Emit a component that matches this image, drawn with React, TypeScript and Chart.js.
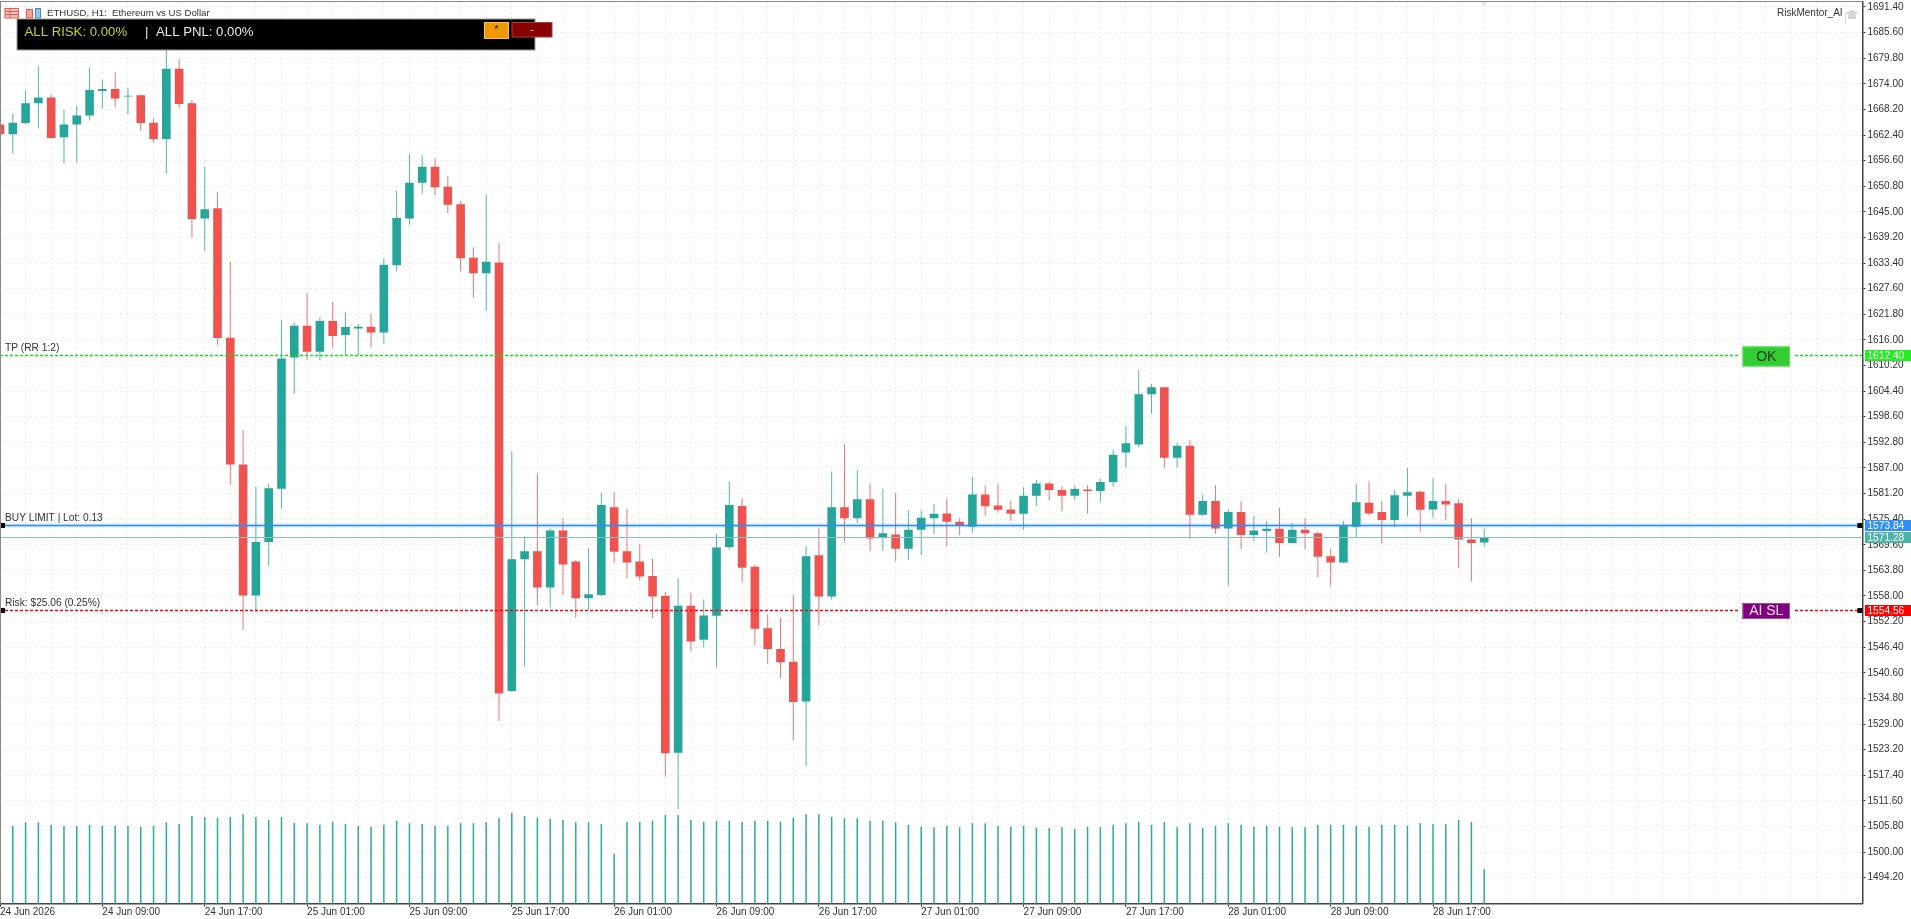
import React, { useEffect, useRef } from "react";
import { Chart, registerables } from "chart.js";

Chart.register(...registerables);

const opens = [1664.8,1662.6,1665.1,1669.6,1670.9,1661.9,1664.8,1666.8,1672.4,1672.8,1671.1,1671.4,1665.2,1661.5,1677.4,1669.6,1643.5,1645.8,1616.5,1587.8,1558.1,1570.2,1582.3,1612,1619.2,1613.3,1620.3,1617.1,1618.6,1619,1617.7,1632.9,1643.5,1651.6,1655.2,1650.7,1646.7,1634.6,1631.1,1633.5,1536.5,1566.3,1568.1,1559.9,1572.8,1565.8,1557.5,1558.2,1578.1,1568.1,1565.8,1562.5,1558,1522.5,1555.8,1548.1,1553.5,1569.1,1578.4,1564.6,1550.7,1546,1543.1,1534.1,1567.2,1557.9,1578.1,1575.6,1579.9,1571.3,1571.9,1568.7,1573,1575.6,1576.7,1574.8,1573.7,1581,1578.5,1577.6,1576.6,1580.7,1583.5,1582,1580.7,1582.1,1581.8,1583.8,1590.5,1592.3,1603.7,1605.3,1589.3,1592,1576.4,1579.5,1573.3,1577,1571.8,1572.7,1573.2,1570,1573,1572.2,1567,1565.6,1573.7,1579.1,1577,1575.2,1580.7,1581.6,1577.6,1579.5,1579,1570.8,1570.1];
const highs = [1665.2,1667.3,1672.5,1678,1671.6,1668.1,1669.1,1677.7,1675,1676.7,1673.1,1671.5,1666.2,1684,1679.6,1670.3,1655.2,1649.4,1633.7,1595.6,1582.8,1583.4,1620.5,1619.8,1626.6,1621.1,1624.6,1622.2,1619.6,1622,1634.5,1649.8,1658.1,1657.8,1657.1,1653.2,1647.5,1637,1648.8,1638,1590.8,1571.5,1585.8,1573.3,1575.6,1566.1,1568.8,1581.3,1581.5,1577.7,1569.7,1566.5,1558.9,1562,1558.6,1557.2,1572,1584,1580.1,1565,1553.8,1553.1,1558.2,1569.3,1573.3,1586.2,1592.4,1586.5,1583.5,1582.2,1581.3,1577.4,1577.3,1578.8,1580.1,1575.6,1585,1583,1583.4,1579.5,1582.6,1584.3,1583.8,1582.9,1582.9,1583.1,1584.5,1591.1,1596.5,1609.2,1606,1605.4,1592.7,1593.3,1580.9,1583.1,1577.6,1579.5,1576.1,1575,1577.9,1574.5,1575.6,1572.6,1568.7,1575,1583.4,1583.9,1579.5,1582,1587,1581.8,1584.6,1583.5,1579.9,1575.6,1573.2];
const lows = [1662.3,1658.3,1664.8,1663.9,1661.6,1656,1656.1,1665.7,1668.4,1668.7,1667.1,1663.3,1660.7,1653.7,1668.5,1639.2,1636.2,1614.9,1583.2,1550.3,1554.4,1564.8,1577.8,1603.9,1611.4,1611.4,1614.3,1612.6,1612.6,1614.3,1615.2,1631.5,1642.1,1649.1,1648.8,1644.7,1631.5,1625.6,1622.6,1529.7,1536.3,1542.1,1555.9,1555.4,1558.2,1553,1554.8,1558,1565.6,1562,1561.5,1553,1517.1,1509.7,1545.4,1546.3,1541.8,1568.6,1561.1,1546.7,1542.7,1539.3,1525.2,1519.5,1551.3,1557.2,1570.3,1574.5,1568.1,1568.3,1565.8,1566.2,1567.3,1572,1569.3,1571.8,1572.4,1576.2,1576.9,1574.9,1573,1578.5,1579.6,1577.2,1579.7,1576.7,1579.2,1582.7,1587.1,1591.6,1599.3,1586.9,1587.1,1570.9,1576.1,1572.1,1560.3,1568.5,1570.4,1567.8,1566.9,1569.8,1568.6,1562.2,1560.3,1565.5,1571.3,1576.2,1569.9,1573.7,1576,1572.6,1575.7,1575.1,1564.4,1561.2,1569.2];
const closes = [1662.6,1665.2,1669.6,1670.9,1661.7,1664.8,1666.8,1672.6,1672.8,1670.7,1671.3,1665.1,1661.5,1677.4,1669.4,1643.4,1645.6,1616.4,1587.8,1558.1,1570.2,1582.4,1611.8,1619.2,1613.3,1620.3,1616.9,1618.9,1619,1617.7,1633,1643.6,1651.6,1655.2,1650.6,1646.6,1634.5,1631.1,1633.7,1535.9,1566.3,1568.1,1559.9,1572.8,1565.1,1557.5,1558.4,1578.6,1568,1565.6,1562.4,1557.9,1522.4,1555.8,1547.7,1553.6,1569,1578.6,1564.4,1550.6,1546,1543,1534,1567,1557.9,1578.1,1575.6,1579.9,1571,1572.2,1568.7,1573,1575.7,1576.6,1574.8,1574,1581,1578.3,1577.5,1576.6,1580.7,1583.5,1582,1580.7,1582.2,1581.8,1583.8,1590,1592.6,1603.7,1605.3,1589.3,1592,1576.4,1579.5,1573.3,1577,1571.8,1572.8,1573.2,1570,1573,1572.2,1566.9,1565.6,1574,1579.2,1576.7,1575.2,1580.8,1581.5,1577.5,1579.5,1578.7,1570.8,1570,1571.3];
const volumes = [0,234,244,244,237,234,234,237,234,234,234,231,234,244,239,263,260,258,260,268,260,251,260,242,241,237,246,239,234,231,237,249,241,239,234,234,241,241,244,258,272,263,258,254,251,244,244,239,150,246,246,249,266,266,251,246,249,249,246,249,249,246,258,268,268,260,256,256,249,249,244,237,231,229,234,229,241,241,234,231,234,227,227,229,224,231,229,237,241,246,237,244,229,241,227,234,241,237,231,234,231,229,229,237,237,237,234,231,237,237,234,241,239,239,251,246,104];
const timeLabels = ["24 Jun 2026","24 Jun 09:00","24 Jun 17:00","25 Jun 01:00","25 Jun 09:00","25 Jun 17:00","26 Jun 01:00","26 Jun 09:00","26 Jun 17:00","27 Jun 01:00","27 Jun 09:00","27 Jun 17:00","28 Jun 01:00","28 Jun 09:00","28 Jun 17:00"];
const priceTicks = [1691.4,1685.6,1679.8,1674,1668.2,1662.4,1656.6,1650.8,1645,1639.2,1633.4,1627.6,1621.8,1616,1610.2,1604.4,1598.6,1592.8,1587,1581.2,1575.4,1569.6,1563.8,1558,1552.2,1546.4,1540.6,1534.8,1529,1523.2,1517.4,1511.6,1505.8,1500,1494.2];
const tpPrice = 1612.4;
const limitPrice = 1573.84;
const bidPrice = 1571.28;
const slPrice = 1554.56;

const UP = "#26a69a";
const DOWN = "#ef5350";
const FONT = '"Liberation Sans", Arial, sans-serif';

const overlay = {
  id: "overlay",
  afterDraw(chart: any) {
    const { ctx, chartArea, scales } = chart;
    const y = scales.y;
    const L = chartArea.left, R = chartArea.right;
    const H = (v: number) => Math.floor(y.getPixelForValue(v) - 0.3) + 0.5;
    const W = chart.width;
    const txt = (s: string, x: number, yy: number, color: string, font: string, align: any = "left") => {
      ctx.fillStyle = color; ctx.font = font; ctx.textAlign = align; ctx.textBaseline = "middle";
      ctx.fillText(s, x, yy);
    };
    ctx.save();

    // horizontal price lines
    const hline = (v: number, color: string, lw: number, dash: number[]) => {
      ctx.beginPath(); ctx.setLineDash(dash); ctx.strokeStyle = color; ctx.lineWidth = lw;
      ctx.moveTo(L, H(v)); ctx.lineTo(R, H(v)); ctx.stroke(); ctx.setLineDash([]);
    };
    hline(bidPrice, "#7fc4bd", 1, []);
    hline(limitPrice, "rgba(47,143,255,0.2)", 4, []);
    hline(limitPrice, "#2f8fee", 1.5, []);
    hline(tpPrice, "#12e012", 1.7, [3, 2]);
    hline(slPrice, "#ff0000", 1.7, [3, 2]);

    // handles
    ctx.fillStyle = "#000";
    for (const v of [limitPrice, slPrice]) {
      ctx.fillRect(0, H(v) - 2.5, 5, 5);
      ctx.fillRect(R - 5, H(v) - 2.5, 5, 5);
    }

    // line captions
    const small = `10.2px ${FONT}`;
    txt("TP (RR 1:2)", 5, H(tpPrice) - 7, "#333", small);
    txt("BUY LIMIT | Lot: 0.13", 5, H(limitPrice) - 7, "#333", small);
    txt("Risk: $25.06 (0.25%)", 5, H(slPrice) - 7.5, "#333", small);

    // price tags
    const tag = (v: number, color: string, fg = "#fff") => {
      const yy = H(v);
      ctx.fillStyle = color;
      ctx.fillRect(R + 2.5, yy - 5.5, W - R - 2.5, 11);
      txt(v.toFixed(2), R + 5, yy + 0.5, fg, small);
    };
    tag(tpPrice, "#22ee22");
    tag(bidPrice, "#4fb3a8");
    tag(limitPrice, "#2f8fff");
    tag(slPrice, "#ff0000");

    // buttons on the lines
    const btn = (v: number, label: string, bg: string, fg: string, edge: string) => {
      const yy = H(v);
      const x = 1742.5, w = 47.5, h = v === tpPrice ? 20 : 16;
      const top = v === tpPrice ? yy - 9 : yy - 7.5;
      ctx.fillStyle = "#fff"; ctx.fillRect(x - 3, yy - 2, w + 6, 4);
      ctx.fillStyle = bg; ctx.fillRect(x, top, w, h);
      ctx.strokeStyle = edge; ctx.lineWidth = 1; ctx.strokeRect(x + 0.5, top + 0.5, w - 1, h - 1);
      txt(label, x + w / 2, top + h / 2 + 0.5, fg, `14px ${FONT}`, "center");
    };
    btn(tpPrice, "OK", "#32cd32", "#063806", "#5fe05f");
    btn(slPrice, "AI SL", "#800080", "#f3dcf3", "#a050a0");

    // header icons
    ctx.fillStyle = "#f7c5c0"; ctx.fillRect(4.5, 8, 14.5, 10);
    ctx.strokeStyle = "#e85a50"; ctx.lineWidth = 1; ctx.strokeRect(5, 8.5, 13.5, 9.5);
    ctx.beginPath(); ctx.moveTo(5, 11.5); ctx.lineTo(18.5, 11.5); ctx.moveTo(5, 14.5); ctx.lineTo(18.5, 14.5); ctx.moveTo(10, 8.5); ctx.lineTo(10, 18); ctx.stroke();
    ctx.fillStyle = "#f2a09a"; ctx.fillRect(26.5, 9, 6, 9);
    ctx.strokeStyle = "#e85a50"; ctx.strokeRect(26.5, 9.5, 6, 8.5);
    ctx.fillStyle = "#8ec8ee"; ctx.fillRect(35, 8, 6, 10);
    ctx.strokeStyle = "#3a8fd0"; ctx.strokeRect(35.5, 8.5, 5, 9.5);
    txt("ETHUSD, H1:  Ethereum vs US Dollar", 47, 13.5, "#333", `9.6px ${FONT}`);

    // risk panel
    ctx.fillStyle = "#000"; ctx.fillRect(17, 19, 518, 31);
    ctx.strokeStyle = "#999"; ctx.lineWidth = 1; ctx.strokeRect(17, 19, 518, 31);
    const big = `13.2px ${FONT}`;
    txt("ALL RISK: 0.00%", 24.5, 32.5, "#c8d800", big);
    txt("|", 145, 32.5, "#e8e8e8", big);
    txt("ALL PNL: 0.00%", 156, 32.5, "#e8e8e8", big);
    ctx.fillStyle = "#ee9900"; ctx.fillRect(484.5, 22.5, 24, 16);
    ctx.strokeStyle = "#f5c060"; ctx.strokeRect(484.5, 22.5, 24, 16);
    txt("*", 496.5, 30, "#222", `11px ${FONT}`, "center");
    ctx.fillStyle = "#8b0000"; ctx.fillRect(512, 22.5, 40, 14.5);
    ctx.strokeStyle = "#a84040"; ctx.strokeRect(512, 22.5, 40, 14.5);
    txt("-", 532, 30, "#eee", `11px ${FONT}`, "center");

    // expert name and cap
    txt("RiskMentor_AI", 1777, 13.5, "#333", `10px ${FONT}`);
    ctx.fillStyle = "#d6d6d6";
    ctx.beginPath(); ctx.moveTo(1845, 13); ctx.lineTo(1852, 9.5); ctx.lineTo(1858.5, 13); ctx.lineTo(1852, 16); ctx.closePath(); ctx.fill();
    ctx.fillRect(1848, 15, 8, 4);
    ctx.fillRect(1845, 13, 1, 10);

    // small marker above the last bar
    ctx.fillStyle = "#dddddd";
    const mx = scales.x.getPixelForValue(opens.length - 1);
    ctx.beginPath(); ctx.moveTo(mx - 3, 2.5); ctx.lineTo(mx + 3, 2.5); ctx.lineTo(mx, 6.5); ctx.closePath(); ctx.fill();

    // top and left frame
    ctx.strokeStyle = "#888"; ctx.lineWidth = 1;
    ctx.beginPath(); ctx.moveTo(0.5, 2); ctx.lineTo(0.5, chartArea.bottom); ctx.moveTo(0, 1.5); ctx.lineTo(R, 1.5); ctx.stroke();
    ctx.restore();
  },
};

export default function App() {
  const ref = useRef<HTMLCanvasElement | null>(null);
  useEffect(() => {
    const idx = opens.map((_, i) => i);
    const colors = idx.map((i) => (closes[i] >= opens[i] ? UP : DOWN));
    const wicks = colors.map((c) => c + "cc");
    const gridTicks: number[] = [];
    for (let v = 0; v <= 144; v += 2) gridTicks.push(v);
    const noPad = (s: any) => { s.paddingTop = 0; s.paddingBottom = 0; s.paddingLeft = 0; s.paddingRight = 0; };
    const chart = new Chart(ref.current as HTMLCanvasElement, {
      type: "bar",
      data: {
        datasets: [
          { label: "Tick volume", yAxisID: "yVol", grouped: false, barThickness: 1.5, inflateAmount: 0, backgroundColor: "#2bab9e",
            data: idx.map((i) => ({ x: i, y: volumes[i] })) },
          { label: "Range", grouped: false, barThickness: 1, inflateAmount: 0, backgroundColor: wicks,
            data: idx.map((i) => ({ x: i, y: [lows[i], highs[i]] })) },
          { label: "Body", grouped: false, barThickness: 8.6, inflateAmount: 0, backgroundColor: colors,
            data: idx.map((i) => ({ x: i, y: [opens[i], closes[i]] })) },
        ] as any,
      },
      options: {
        responsive: false,
        animation: false,
        layout: { padding: { top: 2, left: 0, right: 0, bottom: 0 } },
        plugins: { legend: { display: false }, tooltip: { enabled: false } },
        scales: {
          x: {
            type: "linear", min: 0, max: 145.56, offset: false,
            afterBuildTicks: (a: any) => { a.ticks = gridTicks.map((value) => ({ value })); },
            afterFit: (a: any) => { a.height = 15.3; noPad(a); },
            grid: {
              offset: false, color: "#ececec", lineWidth: 1, tickLength: 3, tickBorderDash: [],
              tickColor: (c: any) => (c.tick && c.tick.value % 8 === 0 && timeLabels[c.tick.value / 8] ? "#333" : "rgba(0,0,0,0)"),
            },
            border: { display: true, color: "#444", width: 1.5, dash: [2, 3] },
            ticks: {
              autoSkip: false, maxRotation: 0, minRotation: 0, align: "start", padding: 0, color: "#333",
              font: { family: FONT, size: 10 },
              callback: (v: any) => (v % 8 === 0 && timeLabels[v / 8] ? timeLabels[v / 8] : ""),
            },
          },
          y: {
            type: "linear", position: "right", min: 1488.3, max: 1692.53,
            afterBuildTicks: (a: any) => { a.ticks = priceTicks.map((value) => ({ value })); },
            afterFit: (a: any) => { a.width = 48.6; noPad(a); },
            grid: { color: "#ececec", lineWidth: 1, tickLength: 3, tickBorderDash: [], tickColor: "#333" },
            border: { display: true, color: "#444", width: 1.5, dash: [2, 3] },
            ticks: {
              autoSkip: false, padding: 2, color: "#333", font: { family: FONT, size: 10 },
              callback: (v: any) => Number(v).toFixed(2),
            },
          },
          yVol: { type: "linear", display: false, min: 0, max: 2705 },
        },
      } as any,
      plugins: [overlay],
    });
    return () => chart.destroy();
  }, []);
  return (
    <div style={{ position: "fixed", left: 0, top: 0, width: 1911, height: 919, background: "#fff" }}>
      <canvas ref={ref} width={1911} height={919} style={{ display: "block", width: 1911, height: 919 }} />
    </div>
  );
}
